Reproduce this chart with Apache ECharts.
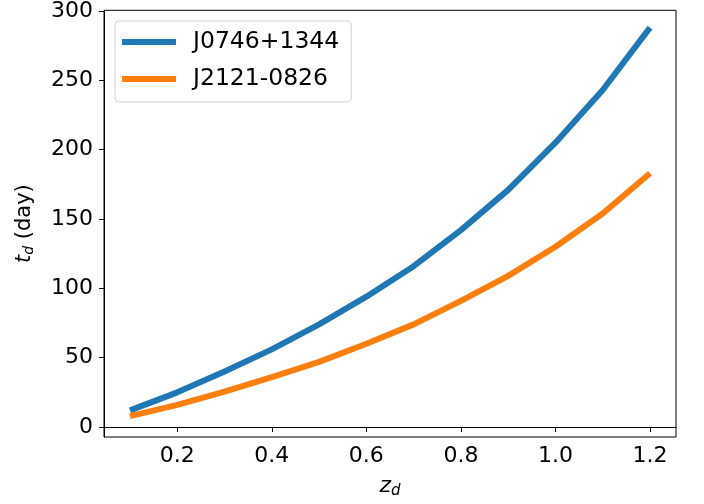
<!DOCTYPE html>
<html>
<head>
<meta charset="utf-8">
<script src="https://cdn.jsdelivr.net/npm/echarts@6/dist/echarts.min.js"></script>
<style>html,body{margin:0;padding:0;background:#fff;}#c{width:704px;height:504px;}</style>
</head>
<body>
<div id="c"></div>
<script>
const zd = [0.1, 0.2, 0.3, 0.4, 0.5, 0.6, 0.7, 0.8, 0.9, 1.0, 1.1, 1.2];
const j0746 = [12, 25, 40, 56, 74, 94, 116, 142, 171, 205, 243, 288];
const j2121 = [7.8, 16, 25.5, 36, 47, 60, 74, 91, 109, 130, 154, 183];
const xTicks = [0.2, 0.4, 0.6, 0.8, 1.0, 1.2];
const yTicks = [0, 50, 100, 150, 200, 250, 300];
const names = ['J0746+1344', 'J2121-0826'];

const chart = echarts.init(document.getElementById('c'));
const font = 'DejaVu Sans';
const fs = 22;
chart.setOption({
  animation: false,
  textStyle: { fontFamily: font },
  grid: { left: 104, right: 28, top: 10, bottom: 67, show: true, borderColor: '#000', borderWidth: 1, backgroundColor: 'transparent' },
  legend: {
    orient: 'vertical', left: 115, top: 21, icon: 'rect', itemWidth: 54, itemHeight: 6, itemGap: 13,
    padding: [9, 12, 11, 7], borderColor: '#d0d0d0', borderWidth: 1, borderRadius: 4, backgroundColor: 'rgba(255,255,255,0.8)',
    textStyle: { fontSize: 23.5, lineHeight: 22, color: '#000', fontFamily: font, padding: [0, 0, 0, 12] },
    data: names
  },
  xAxis: {
    type: 'value', min: 0.045, max: 1.255,
    name: '{i|z}{s|d}', nameLocation: 'middle', nameGap: 37,
    nameTextStyle: { rich: { i: { fontSize: fs, fontStyle: 'italic', fontFamily: font, color: '#000' }, s: { fontSize: 15, fontStyle: 'italic', fontFamily: font, color: '#000', padding: [10, 0, 0, 0] } } },
    axisLine: { show: true, lineStyle: { color: '#000', width: 1 } },
    axisTick: { show: true, length: 5, lineStyle: { color: '#000' }, customValues: xTicks },
    axisLabel: { fontSize: fs, color: '#000', fontFamily: font, margin: 8, customValues: xTicks, formatter: v => v.toFixed(1) },
    splitLine: { show: false }
  },
  yAxis: {
    type: 'value', min: -7.2, max: 300.5,
    name: '{i|t}{s|d}{n| (day)}', nameLocation: 'middle', nameGap: 68, nameRotate: 90,
    nameTextStyle: { fontSize: 21, color: '#000', fontFamily: font, rich: { n: { fontSize: 21, fontFamily: font, color: '#000' }, i: { fontSize: 21, fontStyle: 'italic', fontFamily: font, color: '#000' }, s: { fontSize: 14, fontStyle: 'italic', fontFamily: font, color: '#000', padding: [9, 0, 0, 0] } } },
    axisLine: { show: true, lineStyle: { color: '#000', width: 1 } },
    axisTick: { show: true, length: 5, lineStyle: { color: '#000' }, customValues: yTicks },
    axisLabel: { fontSize: fs, color: '#000', fontFamily: font, margin: 11, customValues: yTicks },
    splitLine: { show: false }
  },
  series: [
    { name: names[0], type: 'line', data: zd.map((x, i) => [x, j0746[i]]), symbol: 'none', lineStyle: { width: 6, color: '#1f77b4' }, itemStyle: { color: '#1f77b4' } },
    { name: names[1], type: 'line', data: zd.map((x, i) => [x, j2121[i]]), symbol: 'none', lineStyle: { width: 6, color: '#ff7f0e' }, itemStyle: { color: '#ff7f0e' } }
  ]
});
</script>
</body>
</html>
